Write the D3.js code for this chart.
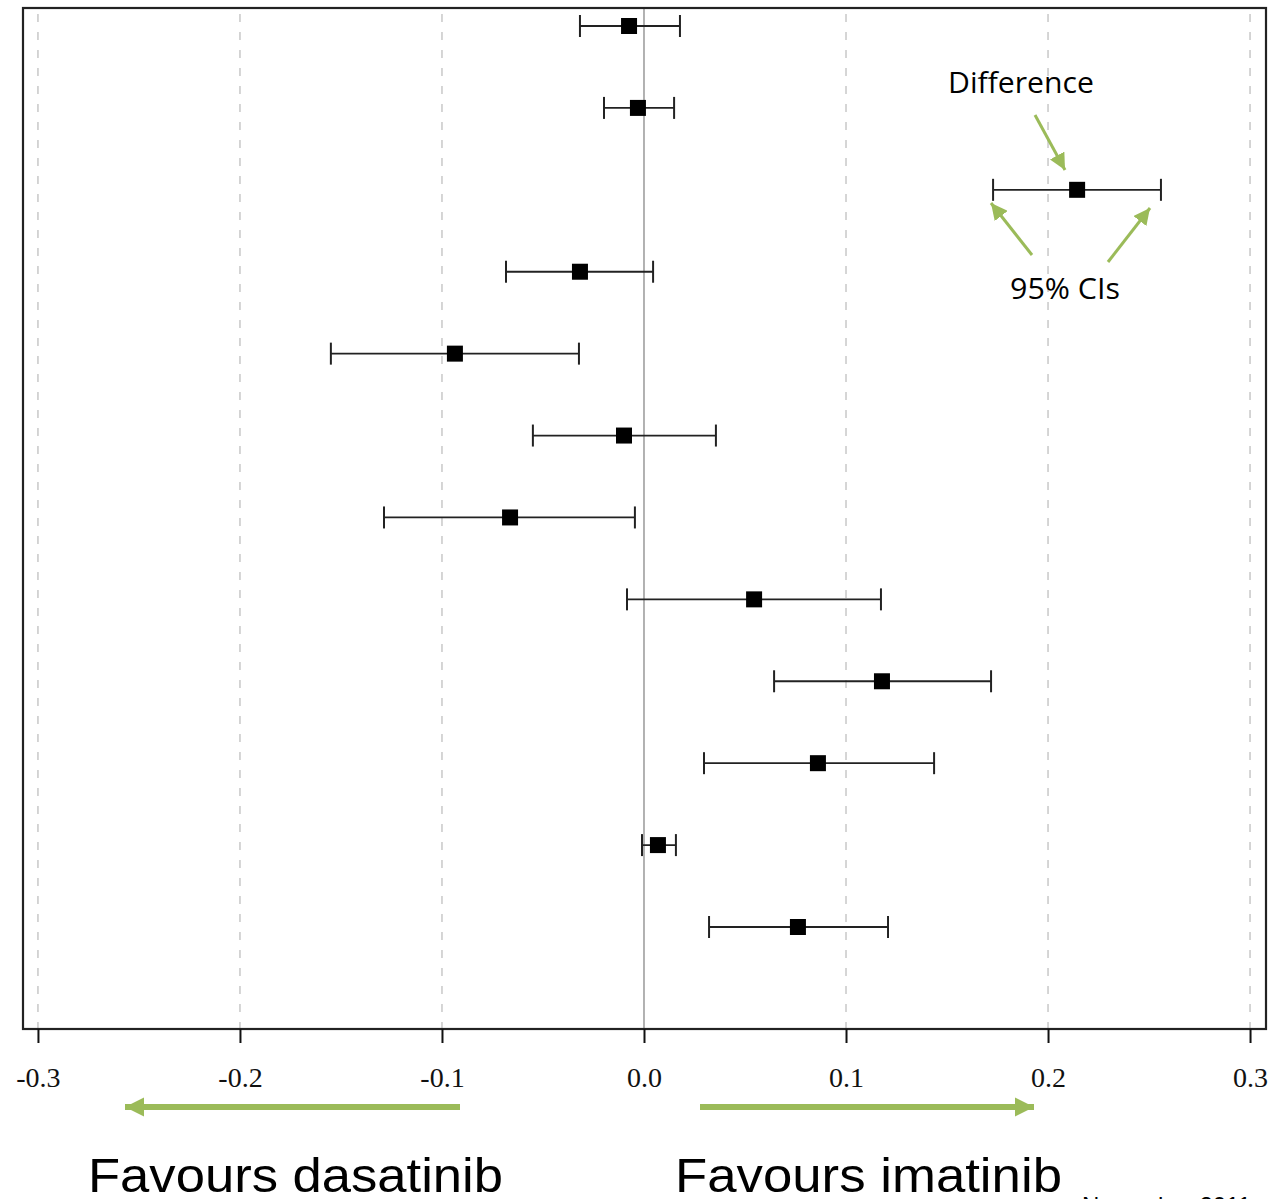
<!DOCTYPE html>
<html><head><meta charset="utf-8">
<script src="https://cdn.jsdelivr.net/npm/d3@7"></script>
<style>body{margin:0;background:#fff}svg{display:block}</style>
</head><body>
<script>
const rows = [1,2,3,4,5,6,7,8,9,10,11,12];
const diff = [-0.0074,-0.003,0.2144,-0.0317,-0.0936,-0.0099,-0.0663,0.0545,0.1178,0.0861,0.0069,0.0762];
const lower = [-0.0317,-0.0198,0.1728,-0.0683,-0.155,-0.055,-0.1287,-0.0084,0.0644,0.0297,-0.001,0.0322];
const upper = [0.0178,0.0149,0.2559,0.0045,-0.0322,0.0356,-0.0045,0.1173,0.1718,0.1436,0.0158,0.1208];
const tickValues = [-0.3,-0.2,-0.1,0.0,0.1,0.2,0.3];
const tickLabels = ["-0.3","-0.2","-0.1","0.0","0.1","0.2","0.3"];

const W=1272,H=1199;
const svg=d3.select("body").append("svg").attr("width",W).attr("height",H);
const L=23,R=1266,T=8,B=1029;
const x=d3.scaleLinear().domain([-0.3074,0.3079]).range([L,R]);
const y=d3.scaleLinear().domain([1,12]).range([26,927]);
const green="#9BBB59";

// grid
svg.append("g").selectAll("line").data(tickValues.filter(v=>v!==0)).join("line")
  .attr("x1",d=>x(d)).attr("x2",d=>x(d)).attr("y1",T+6).attr("y2",B)
  .attr("stroke","#c8c8c8").attr("stroke-width",1.5).attr("stroke-dasharray","8,10");
// zero line
svg.append("line").attr("x1",x(0)).attr("x2",x(0)).attr("y1",T).attr("y2",B)
  .attr("stroke","#999").attr("stroke-width",1.5);

// error bars
const g=svg.append("g");
rows.forEach((r,i)=>{
  const yy=y(r);
  g.append("line").attr("x1",x(lower[i])).attr("x2",x(upper[i])).attr("y1",yy).attr("y2",yy).attr("stroke","#222").attr("stroke-width",1.8);
  [lower[i],upper[i]].forEach(v=>g.append("line").attr("x1",x(v)).attr("x2",x(v)).attr("y1",yy-11).attr("y2",yy+11).attr("stroke","#222").attr("stroke-width",2));
  g.append("rect").attr("x",x(diff[i])-8).attr("y",yy-8).attr("width",16).attr("height",16).attr("fill","#000");
});

// box
svg.append("rect").attr("x",L).attr("y",T).attr("width",R-L).attr("height",B-T)
  .attr("fill","none").attr("stroke","#222").attr("stroke-width",2.2);

// axis
const axis=d3.axisBottom(x).tickValues(tickValues).tickFormat((d,i)=>tickLabels[i]).tickSize(14).tickSizeOuter(0);
const ax=svg.append("g").attr("transform",`translate(0,${B})`).call(axis);
ax.select(".domain").remove();
ax.selectAll(".tick line").attr("stroke","#111").attr("stroke-width",2);
ax.selectAll(".tick text").attr("font-family","'Liberation Serif','Times New Roman',serif").attr("font-size",28).attr("fill","#111").attr("dy","0").attr("y",58);

// markers
const defs=svg.append("defs");
defs.append("marker").attr("id","ah").attr("viewBox","0 0 10 10").attr("refX",10).attr("refY",5)
  .attr("markerWidth",3.2).attr("markerHeight",3.2).attr("markerUnits","strokeWidth").attr("orient","auto")
  .append("path").attr("d","M0,0L10,5L0,10Z").attr("fill",green);
defs.append("marker").attr("id","ahs").attr("viewBox","0 0 10 10").attr("refX",10).attr("refY",5)
  .attr("markerWidth",5.5).attr("markerHeight",5.5).attr("markerUnits","strokeWidth").attr("orient","auto")
  .append("path").attr("d","M0,0L10,5L0,10Z").attr("fill",green);

// bottom arrows
svg.append("line").attr("x1",460).attr("x2",125).attr("y1",1107).attr("y2",1107).attr("stroke",green).attr("stroke-width",6).attr("marker-end","url(#ah)");
svg.append("line").attr("x1",700).attr("x2",1034).attr("y1",1107).attr("y2",1107).attr("stroke",green).attr("stroke-width",6).attr("marker-end","url(#ah)");

svg.append("text").attr("x",88).attr("y",1192).attr("font-family","'Liberation Sans',Arial,sans-serif").attr("font-size",49)
  .attr("textLength",415).attr("lengthAdjust","spacingAndGlyphs").attr("fill","#000").text("Favours dasatinib");
svg.append("text").attr("x",675).attr("y",1192).attr("font-family","'Liberation Sans',Arial,sans-serif").attr("font-size",49)
  .attr("textLength",387).attr("lengthAdjust","spacingAndGlyphs").attr("fill","#000").text("Favours imatinib");
svg.append("text").attr("x",1082).attr("y",1214).attr("font-family","'Liberation Sans',Arial,sans-serif").attr("font-size",24).attr("fill","#000").text("November 2011");

// annotations
svg.append("text").attr("x",948).attr("y",93).attr("font-family","'Open Sans','Noto Sans',sans-serif").attr("font-size",30)
  .attr("textLength",146).attr("lengthAdjust","spacingAndGlyphs").attr("fill","#000").text("Difference");
svg.append("text").attr("x",1010).attr("y",299).attr("font-family","'Open Sans','Noto Sans',sans-serif").attr("font-size",30)
  .attr("textLength",110).attr("lengthAdjust","spacingAndGlyphs").attr("fill","#000").text("95% CIs");
[[1035,115,1065,170],[1032,255,991,203],[1108,262,1150,208]].forEach(a=>{
  svg.append("line").attr("x1",a[0]).attr("y1",a[1]).attr("x2",a[2]).attr("y2",a[3]).attr("stroke",green).attr("stroke-width",3).attr("marker-end","url(#ahs)");
});
</script>
</body></html>
